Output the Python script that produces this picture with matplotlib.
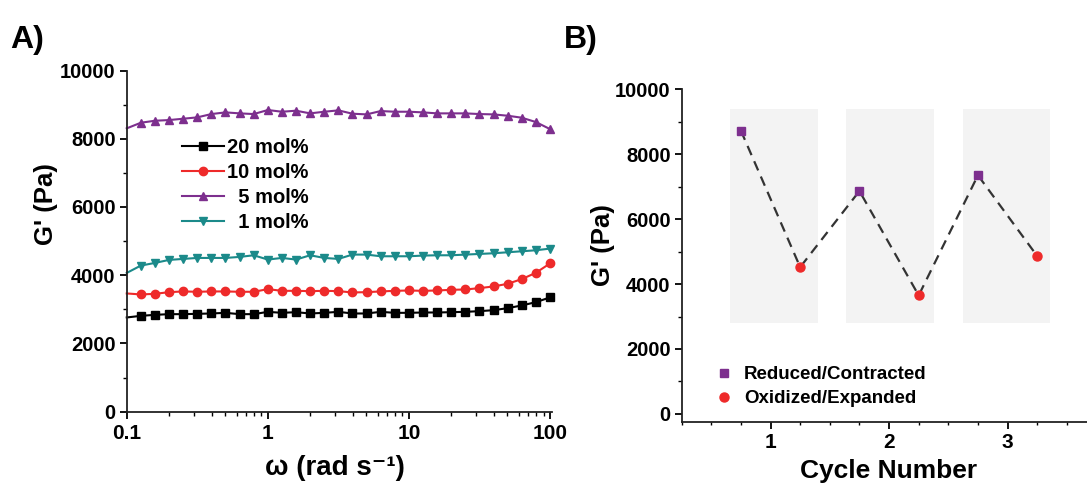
import matplotlib
matplotlib.use("Agg")
import matplotlib.pyplot as plt
import numpy as np
from matplotlib.ticker import MultipleLocator, LogLocator, NullFormatter, FixedLocator
from matplotlib.patches import Rectangle

plt.rcParams['font.family'] = ['Liberation Sans', 'DejaVu Sans']
plt.rcParams['font.weight'] = 'bold'

# panel A: frequency sweep, 10 points per decade from 0.1 to 100 rad/s
omega = 10 ** (np.arange(31) / 10 - 1)
g_20 = [2762, 2810, 2839, 2859, 2859, 2869, 2879, 2898, 2859, 2859, 2927,
        2898, 2917, 2879, 2898, 2927, 2879, 2879, 2927, 2898, 2898, 2908,
        2908, 2917, 2927, 2947, 2976, 3035, 3114, 3211, 3349]
g_10 = [3466, 3437, 3455, 3504, 3525, 3515, 3525, 3525, 3515, 3515, 3592,
        3543, 3543, 3534, 3543, 3534, 3495, 3504, 3525, 3543, 3553, 3543,
        3553, 3573, 3582, 3622, 3671, 3749, 3886, 4071, 4345]
g_5 = [8305, 8470, 8528, 8548, 8587, 8627, 8724, 8773, 8744, 8724, 8842,
       8792, 8822, 8744, 8792, 8832, 8734, 8714, 8812, 8792, 8792, 8773,
       8744, 8744, 8744, 8724, 8714, 8675, 8617, 8490, 8284]
g_1 = [4068, 4283, 4361, 4449, 4478, 4507, 4507, 4507, 4537, 4585, 4459,
       4507, 4459, 4585, 4507, 4478, 4605, 4605, 4556, 4556, 4556, 4576,
       4585, 4585, 4605, 4624, 4644, 4673, 4702, 4732, 4780]

# panel B: switching cycles
red_x = [0.75, 1.75, 2.75]
red_g = [8726, 6866, 7351]
ox_x = [1.25, 2.25, 3.25]
ox_g = [4520, 3650, 4863]
cycle_ticks = [1, 2, 3]
shade_left = [0.66, 1.64, 2.62]
shade_width = 0.74

black = '#000000'
red = '#ee2a2a'
purple = '#7d2f8e'
teal = '#1b8a8a'

fig = plt.figure(figsize=(10.87, 4.83), dpi=100)

# ---------- A ----------
ax = fig.add_axes([0.1166, 0.1476, 0.3909, 0.7064])
series = [(g_20, black, 's', '20 mol%'),
          (g_10, red, 'o', '10 mol%'),
          (g_5, purple, '^', '  5 mol%'),
          (g_1, teal, 'v', '  1 mol%')]
for g, c, m, lab in series:
    ax.plot(omega, g, color=c, marker=m, ms=6, lw=1.5, label=lab,
            markevery=slice(1, None), clip_on=False)
ax.set_xscale('log')
ax.set_xlim(0.1, 102.8)
ax.set_ylim(0, 10000)
ax.yaxis.set_major_locator(MultipleLocator(2000))
ax.yaxis.set_minor_locator(MultipleLocator(1000))
ax.xaxis.set_major_locator(FixedLocator([0.1, 1, 10, 100]))
ax.set_xticklabels(['0.1', '1', '10', '100'])
ax.xaxis.set_minor_locator(LogLocator(base=10, subs=np.arange(2, 10)))
ax.xaxis.set_minor_formatter(NullFormatter())
ax.set_xlabel('ω (rad s⁻¹)', fontsize=20, fontweight='bold')
ax.xaxis.set_label_coords(0.49, -0.128)
ax.set_ylabel("G' (Pa)", fontsize=18.5, fontweight='bold')
ax.yaxis.set_label_coords(-0.162, 0.61)
leg = ax.legend(loc='upper left', bbox_to_anchor=(0.11, 0.826), frameon=False,
                fontsize=14.5, handlelength=2.1, handletextpad=0.15,
                labelspacing=0.3, borderaxespad=0, markerfirst=True)
for t in leg.get_texts():
    t.set_fontweight('bold')
fig.text(0.009, 0.948, 'A)', fontsize=23, fontweight='bold', va='top')

# ---------- B ----------
bx = fig.add_axes([0.6271, 0.1263, 0.3816, 0.6888])
for xl in shade_left:
    bx.add_patch(Rectangle((xl, 2800), shade_width, 6600, facecolor='#f3f3f3',
                           edgecolor='none', zorder=0))
cx = []
cg = []
for i in range(3):
    cx += [red_x[i], ox_x[i]]
    cg += [red_g[i], ox_g[i]]
bx.plot(cx, cg, ls=(0, (4.5, 3)), color='#333333', lw=1.6, zorder=2)
bx.plot(red_x, red_g, ls='none', marker='s', ms=5.5, color=purple,
        label='Reduced/Contracted', zorder=3)
bx.plot(ox_x, ox_g, ls='none', marker='o', ms=6.5, color=red,
        label='Oxidized/Expanded', zorder=3)
bx.set_xlim(0.25, 3.75)
bx.set_ylim(-250, 10000)
bx.xaxis.set_major_locator(FixedLocator(cycle_ticks))
bx.xaxis.set_minor_locator(MultipleLocator(0.25))
bx.yaxis.set_major_locator(FixedLocator([0, 2000, 4000, 6000, 8000, 10000]))
bx.yaxis.set_minor_locator(FixedLocator([1000, 3000, 5000, 7000, 9000]))
bx.set_xlabel('Cycle Number', fontsize=19, fontweight='bold')
bx.xaxis.set_label_coords(0.5, -0.112)
bx.set_ylabel("G' (Pa)", fontsize=18.5, fontweight='bold')
bx.yaxis.set_label_coords(-0.161, 0.532)
leg2 = bx.legend(loc='lower left', bbox_to_anchor=(0.062, 0.022), frameon=False,
                 fontsize=13.5, handlelength=1.0, handletextpad=0.55,
                 labelspacing=0.35, borderaxespad=0)
for t in leg2.get_texts():
    t.set_fontweight('bold')
fig.text(0.519, 0.948, 'B)', fontsize=23, fontweight='bold', va='top')

for a in (ax, bx):
    for s in ('top', 'right'):
        a.spines[s].set_visible(False)
    for s in ('left', 'bottom'):
        a.spines[s].set_linewidth(1.3)
        a.spines[s].set_color('#222222')
    a.tick_params(which='major', direction='out', length=5, width=1.3,
                  labelsize=14.5, pad=3)
    a.tick_params(which='minor', direction='out', length=3, width=1.0)
    for lab in a.get_xticklabels() + a.get_yticklabels():
        lab.set_fontweight('bold')

ax.tick_params(axis='x', which='major', labelsize=15, pad=4)
bx.tick_params(axis='x', which='major', labelsize=15, pad=3)
bx.tick_params(axis='x', which='minor', length=2)

fig.savefig('out.png', dpi=100)
